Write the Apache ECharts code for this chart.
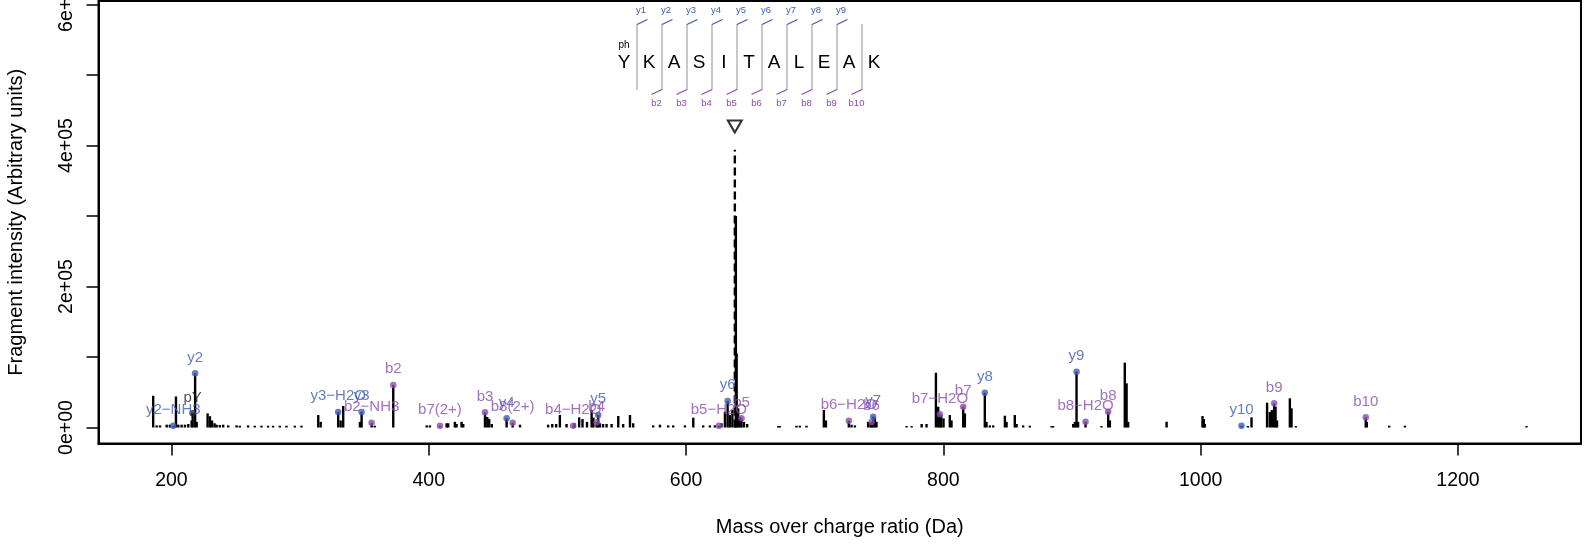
<!DOCTYPE html>
<html>
<head>
<meta charset="utf-8">
<script src="https://cdn.jsdelivr.net/npm/echarts@6/dist/echarts.min.js"></script>
<style>html,body{margin:0;padding:0;background:#fff;}#c{width:1596px;height:546px;}</style>
</head>
<body>
<div id="c"></div>
<script>
// ---------- DATA ----------
const peakMz = [185.8,188.5,191.1,196.3,198.8,203.5,205.3,207.9,210.5,213.1,215.7,219.6,228.1,229.9,231.5,233.5,235.1,237.6,240.2,244.1,250.6,253.1,259.6,264.8,270,275.1,279,284.2,289.4,295.9,301.1,314.1,316,331.5,333.5,346.5,358,398.4,400.9,413.9,415.1,420.3,421.6,425.5,426.8,445.5,447,449,470.9,492.8,496,499,501.9,507.1,513.3,516.9,519.5,523,526.6,528,533,535.5,538.2,542.1,547.3,551.1,556.4,558.9,574.4,579.7,586.1,590,599.1,605.6,613.3,618.5,622.4,627.5,630.2,634,636,638.7,639.3,640.5,642,645,647.5,671.6,672.9,685.8,688.4,693.6,707.1,708.7,728.6,731.2,741.5,743.4,746.7,748,771.4,775.3,783.1,786.9,794.2,796,798.3,800.1,805,806.3,816.7,833.5,836.1,838.7,847.8,849.1,855.5,856.9,862,867.2,884.1,885.3,900.9,902.2,904.7,922.9,929.4,941,942.4,943.6,973.5,1001.4,1002.4,1003.2,1036.7,1039.5,1051.6,1053.7,1055.3,1058.2,1059.3,1069.3,1070.6,1074,1129.1,1146.5,1158.7,1253.2];
const peakIntensity = [45000,3000,3000,4000,4000,44000,4000,4000,4000,5000,10000,8000,20000,16000,10000,6000,4000,3500,4000,3000,3000,2500,3000,2500,2500,2500,2500,2500,2500,2500,2500,17700,8000,10000,30500,8000,2500,3000,3000,6000,6000,8000,5000,8000,5000,15000,12000,5000,4000,4000,5000,5000,17700,5000,6000,14400,12000,8000,24800,14000,6000,5000,5000,5000,16300,5000,17700,6000,3000,4000,3000,3000,3000,13900,3000,3000,3000,6000,22400,18000,25000,300000,105000,27200,15000,8000,5000,2000,2000,2500,2500,2500,24800,10000,4000,3000,8000,7000,14400,8000,2000,2000,5000,5000,77700,29500,18000,13000,17700,10000,20000,8000,3000,3000,16700,8000,17700,5000,3000,2500,2000,2000,5000,8000,8000,2000,10000,92000,62700,8000,8200,16300,12000,5000,2000,14400,35200,22000,24800,29500,10000,41400,27200,2000,8000,2500,2500,2000];

const yIonLabels = ['y2\u2212NH3','y2','y3\u2212H2O','y3','y4','y5','y6','y7','y8','y9','y10'];
const yIonMz = [201.4,218.4,329.6,347.8,460.5,531.7,632.3,745.4,832.2,903.5,1031.7];
const yIonIntensity = [2500,76900,22000,22000,13000,17700,37600,15300,49400,79200,2500];

const bIonLabels = ['b2\u2212NH3','b2','b7(2+)','b3','b8(2+)','b4\u2212H2O','b4','b5\u2212H2O','b5','b6\u2212H2O','b6','b7\u2212H2O','b7','b8\u2212H2O','b8','b9','b10'];
const bIonMz = [355.6,372.4,408.7,443.7,465.2,512.3,530.5,625.5,643.1,726.5,744.2,797.3,815.4,910.5,928.1,1057.1,1128.3];
const bIonIntensity = [6800,60300,2500,21600,6800,2500,7400,2500,13000,9600,7800,18700,29500,8200,22400,34300,14500];

const otherLabels = ['pY'];
const otherMz = [216.5];
const otherIntensity = [20100];

const precursorMz = [637.9];
const precursorIntensity = [394000];
const precursorMarker = [427000];

const sequence = ['Y','K','A','S','I','T','A','L','E','A','K'];
const modifications = ['ph','','','','','','','','','',''];
const seqYLabels = ['y1','y2','y3','y4','y5','y6','y7','y8','y9',''];
const seqBLabels = ['','b2','b3','b4','b5','b6','b7','b8','b9','b10'];

const xTicks = [200,400,600,800,1000,1200];
const yTicks = [0,100000,200000,300000,400000,500000,600000];
const yTickLabels = [0,200000,400000,600000];

// ---------- STYLE ----------
const FONT = 'Liberation Sans, Arial, Helvetica, sans-serif';
const BLUE = '#3d5cb4';
const PURPLE = '#8a4dae';

function sci(v){
  if (v === 0) return '0e+00';
  const e = Math.floor(Math.log10(Math.abs(v)));
  const m = Math.round(v / Math.pow(10, e));
  return m + 'e+' + String(e).padStart(2, '0');
}

const allMz = peakMz.concat(yIonMz, bIonMz, otherMz);
const allInt = peakIntensity.concat(yIonIntensity, bIonIntensity, otherIntensity);
const stickData = allMz.map((m, i) => [m, allInt[i]]);

function stickRender(color, dash){
  return function(params, api){
    const x = api.value(0), y = api.value(1);
    const p0 = api.coord([x, 0]), p1 = api.coord([x, y]);
    return {type:'line', shape:{x1:p0[0], y1:p0[1], x2:p1[0], y2:p1[1]},
      style:{stroke:color, lineWidth:2.4, lineDash: dash || null}};
  };
}

function ionSeries(labels, mz, inten, color){
  return {
    type:'scatter', symbol:'circle', symbolSize:6.5, z:5,
    itemStyle:{color:color},
    data: mz.map((m,i)=>({value:[m, inten[i]], name:labels[i]})),
    label:{show:true, position:'top', distance:5, formatter:p=>p.name,
      color:color, fontSize:15, fontFamily:FONT},
    emphasis:{disabled:true}, silent:true
  };
}

// sequence annotation graphic (decoration)
const seqX0 = 624, seqStep = 25, seqY = 63;
const graphics = [];
sequence.forEach((aa, i) => {
  graphics.push({type:'text', x: seqX0 + i*seqStep, y: seqY,
    style:{text:aa, font:'19px ' + FONT, fill:'#000', align:'center', verticalAlign:'middle'}});
  if (modifications[i]) graphics.push({type:'text', x: seqX0 + i*seqStep, y: 45,
    style:{text:modifications[i], font:'10px ' + FONT, fill:'#000', align:'center', verticalAlign:'middle'}});
});
for (let j = 0; j < sequence.length - 1; j++){
  const sx = seqX0 + (j + 0.5)*seqStep + 0.5;
  graphics.push({type:'line', shape:{x1:sx, y1:24, x2:sx, y2:90}, style:{stroke:'#c8c8c8', lineWidth:2}});
  if (seqYLabels[j]){
    graphics.push({type:'line', shape:{x1:sx, y1:24.5, x2:sx+10.5, y2:19.5}, style:{stroke:BLUE, lineWidth:1.2}});
    graphics.push({type:'text', x:sx+4, y:10, style:{text:seqYLabels[j], font:'9.5px ' + FONT, fill:BLUE, align:'center', verticalAlign:'middle'}});
  }
  if (seqBLabels[j]){
    graphics.push({type:'line', shape:{x1:sx, y1:89.5, x2:sx-10.5, y2:94.5}, style:{stroke:PURPLE, lineWidth:1.2}});
    graphics.push({type:'text', x:sx-5.5, y:103.5, style:{text:seqBLabels[j], font:'9.5px ' + FONT, fill:PURPLE, align:'center', verticalAlign:'middle'}});
  }
}

const chart = echarts.init(document.getElementById('c'), null, {renderer:'canvas'});
chart.setOption({
  animation:false,
  backgroundColor:'#fff',
  grid:{left:98.5, right:15, top:1, bottom:102.5, show:true, borderColor:'#000', borderWidth:2,
    backgroundColor:'transparent', containLabel:false, outerBoundsMode:'none'},
  xAxis:{
    type:'value', min:143.3, max:1295.6,
    name:'Mass over charge ratio (Da)', nameLocation:'middle', nameGap:74,
    nameTextStyle:{fontSize:20, fontFamily:FONT, color:'#000'},
    axisLine:{show:true, onZero:false, lineStyle:{color:'#000', width:2}},
    axisTick:{show:true, length:12, customValues:xTicks, lineStyle:{color:'#000', width:1.5}},
    axisLabel:{show:true, customValues:xTicks, margin:27, fontSize:19.5, fontFamily:FONT, color:'#000', formatter:v=>String(v)},
    splitLine:{show:false}
  },
  yAxis:{
    type:'value', min:-22700, max:604965,
    name:'Fragment intensity (Arbitrary units)', nameLocation:'middle', nameGap:72, nameRotate:90,
    nameTextStyle:{fontSize:20, fontFamily:FONT, color:'#000'},
    axisLine:{show:true, onZero:false, lineStyle:{color:'#000', width:2}},
    axisTick:{show:true, length:12, customValues:yTicks, lineStyle:{color:'#000', width:1.5}},
    axisLabel:{show:true, customValues:yTickLabels, rotate:90, margin:22, fontSize:19.5, fontFamily:FONT, color:'#000', formatter:v=>sci(v)},
    splitLine:{show:false}
  },
  graphic: graphics,
  series:[
    {type:'custom', renderItem:stickRender('#000'), data:stickData, encode:{x:0,y:1}, silent:true, z:2},
    {type:'custom', renderItem:stickRender('#000',[8,4]), data:precursorMz.map((m,i)=>[m, precursorIntensity[i]]), encode:{x:0,y:1}, silent:true, z:3},
    {type:'scatter', symbol:'triangle', symbolRotate:180, symbolSize:[14,12], z:4,
      itemStyle:{color:'#fff', borderColor:'#000', borderWidth:2},
      data: precursorMz.map((m,i)=>[m, precursorMarker[i]]), silent:true},
    ionSeries(yIonLabels, yIonMz, yIonIntensity, BLUE),
    ionSeries(bIonLabels, bIonMz, bIonIntensity, PURPLE),
    ionSeries(otherLabels, otherMz, otherIntensity, '#222')
  ]
});
</script>
</body>
</html>
